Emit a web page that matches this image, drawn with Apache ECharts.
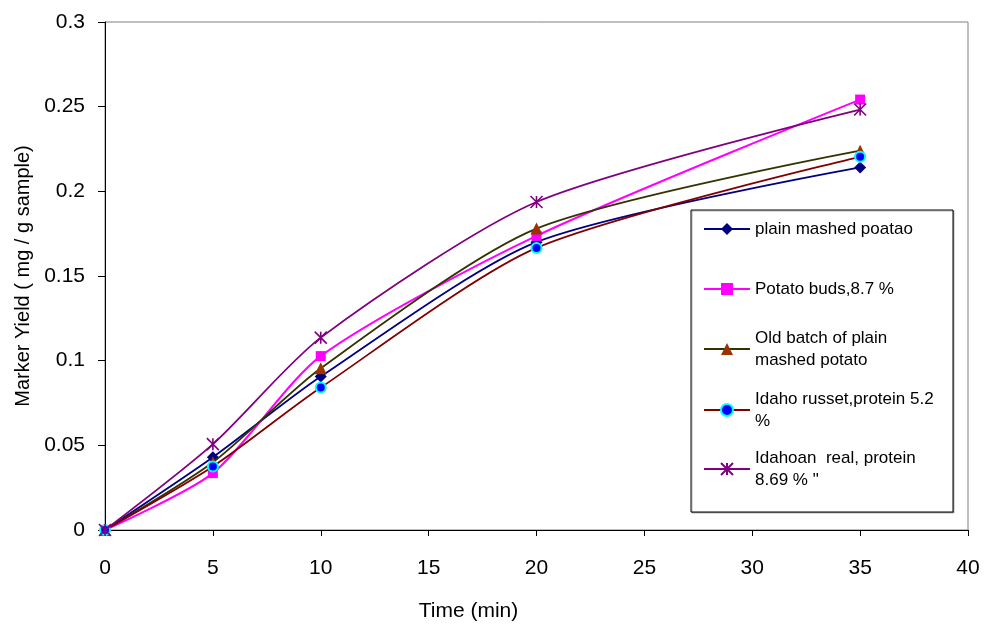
<!DOCTYPE html>
<html>
<head>
<meta charset="utf-8">
<script src="https://cdn.jsdelivr.net/npm/echarts@6/dist/echarts.min.js"></script>
<style>
html,body{margin:0;padding:0;background:#fff;}
#chart{width:987px;height:627px;}
</style>
</head>
<body>
<div id="chart"></div>
<script>
// ---- data ----
var timeMin = [0, 5, 10, 20, 35];
var seriesNames = [
  'plain mashed poatao',
  'Potato buds,8.7 %',
  'Old batch of plain\nmashed potato',
  'Idaho russet,protein 5.2\n%',
  'Idahoan  real, protein\n8.69 % "'
];
var plainMashed = [0, 0.043, 0.0906, 0.170, 0.2141];
var potatoBuds  = [0, 0.0336, 0.1027, 0.1737, 0.2542];
var oldBatch    = [0, 0.040, 0.0955, 0.178, 0.224];
var idahoRusset = [0, 0.0375, 0.0841, 0.1666, 0.2204];
var idahoanReal = [0, 0.0507, 0.1136, 0.1937, 0.2483];
var xTicks = [0, 5, 10, 15, 20, 25, 30, 35, 40];
var yTicks = [0, 0.05, 0.1, 0.15, 0.2, 0.25, 0.3];

function pairs(ys) { return timeMin.map(function (x, i) { return [x, ys[i]]; }); }

var FONT = 'Liberation Sans, Arial, sans-serif';
var chart = echarts.init(document.getElementById('chart'));

var seriesDefs = [
  {data: plainMashed, symbol: 'diamond', size: 12, color: '#000080', line: '#000080', border: null},
  {data: potatoBuds, symbol: 'rect', size: 10, color: '#FF00FF', line: '#FF00FF', border: null},
  {data: oldBatch, symbol: 'triangle', size: 12, color: '#993300', line: '#333300', border: null},
  {data: idahoRusset, symbol: 'circle', size: 10, color: '#0000FF', line: '#800000', border: '#00FFFF'},
  {data: idahoanReal, symbol: 'path://M0,0L10,10M10,0L0,10M5,0L5,10', size: 12, color: '#800080', line: '#800080', border: '#800080'}
];

var series = seriesDefs.map(function (d, i) {
  return {
    name: seriesNames[i],
    type: 'line',
    data: pairs(d.data),
    smooth: 0.25,
    symbol: d.symbol,
    symbolSize: d.size,
    showSymbol: true,
    lineStyle: {color: d.line, width: i === 1 ? 2 : 1.8},
    itemStyle: {
      color: d.color,
      borderColor: d.border || d.color,
      borderWidth: d.border ? (i === 4 ? 1.6 : 2) : 0
    },
    z: 2 + i
  };
});

var legendCenters = [229, 289, 349, 410, 469];
var legends = seriesNames.map(function (n, i) {
  var twoLine = n.indexOf('\n') >= 0;
  return {
    orient: 'vertical',
    left: 703,
    top: twoLine ? legendCenters[i] - 33 : legendCenters[i] - 11,
    padding: 0,
    itemWidth: 46,
    itemHeight: 15,
    data: [n],
    selectedMode: false,
    textStyle: {
      fontFamily: FONT, fontSize: 17, color: '#000', lineHeight: 22,
      padding: twoLine ? [22, 0, 0, 0] : 0
    },
    z: 10
  };
});

chart.setOption({
  animation: false,
  backgroundColor: '#fff',
  grid: {left: 105, right: 19, top: 22, bottom: 95, show: true, borderColor: '#808080', borderWidth: 1, backgroundColor: 'transparent'},
  legend: legends,
  graphic: [{
    type: 'rect', z: 5,
    shape: {x: 691, y: 210, width: 262, height: 302},
    style: {fill: '#fff', stroke: '#000', lineWidth: 1, shadowColor: 'rgba(0,0,0,0.3)', shadowOffsetX: 1, shadowOffsetY: 1, shadowBlur: 0}
  }],
  xAxis: {
    type: 'value', min: xTicks[0], max: xTicks[xTicks.length - 1], interval: xTicks[1] - xTicks[0],
    name: 'Time (min)', nameLocation: 'middle', nameGap: 71,
    nameTextStyle: {fontFamily: FONT, fontSize: 21, color: '#000', padding: [0, 136, 0, 0]},
    axisLine: {lineStyle: {color: '#000', width: 1}},
    axisTick: {show: true, inside: false, length: 6, lineStyle: {color: '#000'}},
    axisLabel: {fontFamily: FONT, fontSize: 21, color: '#000', margin: 28},
    splitLine: {show: false}
  },
  yAxis: {
    type: 'value', min: yTicks[0], max: yTicks[yTicks.length - 1], interval: 0.05,
    name: 'Marker Yield ( mg / g sample)', nameLocation: 'middle', nameGap: 72,
    nameTextStyle: {fontFamily: FONT, fontSize: 20, color: '#000', padding: [0, 0, 0, 0]},
    axisLine: {show: true, lineStyle: {color: '#000', width: 1}},
    axisTick: {show: true, inside: false, length: 7, lineStyle: {color: '#000'}},
    axisLabel: {fontFamily: FONT, fontSize: 21, color: '#000', margin: 20,
      formatter: function (v) { return String(+v.toFixed(2)); }},
    splitLine: {show: false}
  },
  series: series
});
</script>
</body>
</html>
